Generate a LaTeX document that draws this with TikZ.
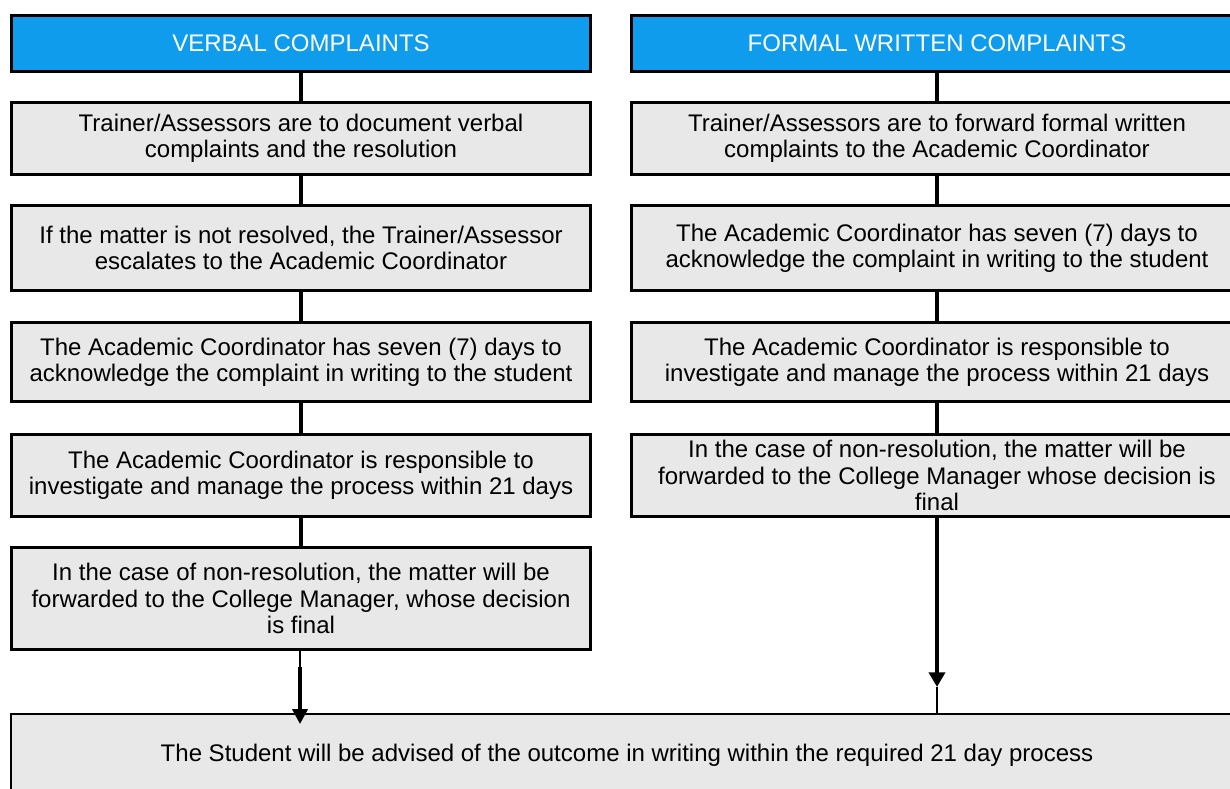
\documentclass[tikz,border=0pt]{standalone}
\usepackage{fontspec}
\setmainfont{Liberation Sans}
\usetikzlibrary{arrows.meta}
\definecolor{headblue}{RGB}{16,156,236}
\definecolor{boxgray}{RGB}{232,232,232}
\tikzset{
  base/.style={draw=black, align=center, inner sep=0pt,
    font=\fontsize{18pt}{19.7pt}\selectfont},
  headbox/.style={base, line width=2.25pt, fill=headblue, text=white},
  stepbox/.style={base, line width=2.25pt, fill=boxgray},
  endbox/.style={base, line width=1.5pt, fill=boxgray},
  link/.style={line width=2.4pt},
  thinlink/.style={line width=0.9pt},
  leftarrow/.style={line width=2.3pt, -{Triangle[length=11.25pt, width=11.5pt]}},
  rightarrow/.style={line width=3.4pt, -{Triangle[length=11pt, width=12pt]}},
}
\begin{document}
\begin{tikzpicture}[x=0.75pt, y=-0.75pt]
\clip (0,0) rectangle (1230,788);
\fill[white] (0,0) rectangle (1230,788);

% left column: verbal complaints
\node[headbox, minimum width=434.25pt, minimum height=42pt] (lh) at (301,43.5) {VERBAL COMPLAINTS};
\node[stepbox, minimum width=434.25pt, minimum height=54pt] (l1) at (301,138.5)
  {Trainer/Assessors are to document verbal\\complaints and the resolution};
\node[stepbox, minimum width=434.25pt, minimum height=63.75pt] (l2) at (301,248)
  {If the matter is not resolved, the Trainer/Assessor\\escalates to the Academic Coordinator};
\node[stepbox, minimum width=434.25pt, minimum height=59.25pt] (l3) at (301,362)
  {The Academic Coordinator has seven (7) days to\\acknowledge the complaint in writing to the student};
\node[stepbox, minimum width=434.25pt, minimum height=61.5pt] (l4) at (301,475.5)
  {The Academic Coordinator is responsible to\\investigate and manage the process within 21 days};
\node[stepbox, minimum width=434.25pt, minimum height=76.5pt] (l5) at (301,598.5)
  {In the case of non-resolution, the matter will be\\forwarded to the College Manager, whose decision\\is final};

% right column: formal written complaints
\node[headbox, minimum width=458.25pt, minimum height=42pt] (rh) at (937,43.5) {FORMAL WRITTEN COMPLAINTS};
\node[stepbox, minimum width=458.25pt, minimum height=54pt] (r1) at (937,138.5)
  {Trainer/Assessors are to forward formal written\\complaints to the Academic Coordinator};
\node[stepbox, minimum width=458.25pt, minimum height=63.75pt] (r2) at (937,248)
  {The Academic Coordinator has seven (7) days to\\acknowledge the complaint in writing to the student};
\node[stepbox, minimum width=458.25pt, minimum height=59.25pt] (r3) at (937,362)
  {The Academic Coordinator is responsible to\\investigate and manage the process within 21 days};
\node[stepbox, minimum width=458.25pt, minimum height=61.5pt] (r4) at (937,475.5)
  {In the case of non-resolution, the matter will be\\forwarded to the College Manager whose decision is\\final};

% shared outcome
\node[endbox, minimum width=924pt, minimum height=61.5pt] (out) at (627,755)
  {The Student will be advised of the outcome in writing within the required 21 day process};

% links inside the columns
\foreach \a/\b in {lh/l1, l1/l2, l2/l3, l3/l4, l4/l5, rh/r1, r1/r2, r2/r3, r3/r4}
  \draw[link] (\a.south) -- (\b.north);

% arrows into the outcome box
\coordinate (lbend) at (300,667);
\coordinate (ltip) at (300,724);
\draw[thinlink] (l5.south -| lbend) -- (lbend);
\draw[leftarrow] (lbend) -- (ltip);
\coordinate (rtip) at (937,687);
\draw[rightarrow] (r4.south) -- (rtip);
\draw[thinlink] (rtip) -- (rtip |- out.north);
\end{tikzpicture}
\end{document}
